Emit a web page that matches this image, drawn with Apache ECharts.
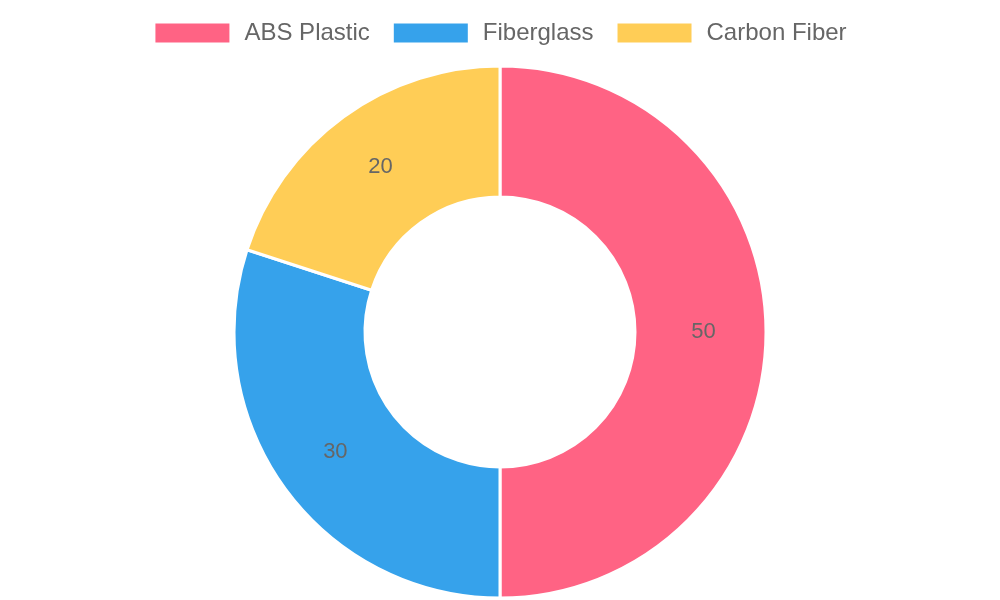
<!DOCTYPE html>
<html>
<head>
<meta charset="utf-8">
<script src="https://cdn.jsdelivr.net/npm/echarts@6/dist/echarts.min.js"></script>
<style>
  html, body { margin: 0; padding: 0; background: #fff; }
  #chart { width: 1000px; height: 600px; }
</style>
</head>
<body>
<div id="chart"></div>
<script>
// 材料占比环形图
const materials = ['ABS Plastic', 'Fiberglass', 'Carbon Fiber']
const shares = [50, 30, 20]
const colors = ['#ff6384', '#36a2eb', '#ffcd56']

const chart = echarts.init(document.getElementById('chart'))

chart.setOption({
  animation: false,
  color: colors,
  legend: {
    top: 16,
    left: 'center',
    itemWidth: 76,
    itemHeight: 21,
    itemGap: 22,
    icon: 'rect',
    textStyle: { color: '#666', fontSize: 24, fontFamily: 'Liberation Sans', padding: [0, 0, 0, 9] },
    data: materials
  },
  series: [{
    type: 'pie',
    center: [500, 332],
    radius: [135, 266],
    startAngle: 90,
    clockwise: true,
    itemStyle: { borderColor: '#fff', borderWidth: 3 },
    label: {
      show: true,
      position: 'inside',
      formatter: '{c}',
      color: '#666',
      fontSize: 22,
      fontFamily: 'Liberation Sans'
    },
    labelLine: { show: false },
    emphasis: { disabled: true },
    data: materials.map((name, i) => ({ name, value: shares[i] }))
  }]
})
</script>
</body>
</html>
